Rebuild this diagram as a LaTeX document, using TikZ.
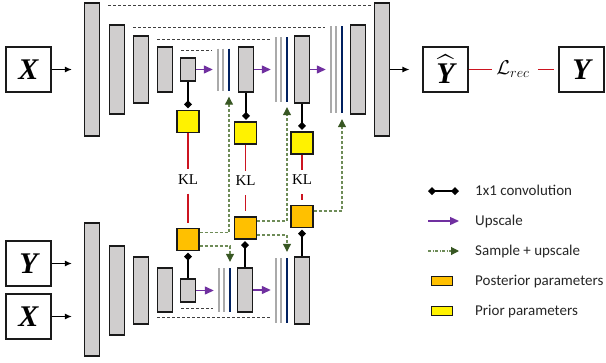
\RequirePackage{fix-cm}
\documentclass[tikz,border=0pt]{standalone}
\usepackage{amsmath}
\usepackage{amssymb}
\usepackage{fontspec}
\setmainfont{Liberation Serif}
\newfontfamily\legfont{Carlito}
\usepackage{tikz}
\usetikzlibrary{arrows.meta}
\usetikzlibrary{positioning}
\tikzset{>={Latex[length=7pt,width=6pt]}}

\definecolor{barfill}{RGB}{208,206,206}
\definecolor{edge}{RGB}{26,26,26}
\definecolor{navyline}{RGB}{0,32,96}
\definecolor{greyline}{RGB}{170,170,170}
\definecolor{upviolet}{RGB}{112,48,160}
\definecolor{samplegreen}{RGB}{110,140,88}
\definecolor{tipgreen}{RGB}{56,87,35}
\definecolor{postorange}{RGB}{255,192,0}
\definecolor{klred}{RGB}{204,20,32}
\definecolor{skipgrey}{RGB}{64,64,64}
\definecolor{legtext}{RGB}{38,38,38}

\tikzset{
  bar/.style={draw=edge, fill=barfill, line width=1.3pt, inner sep=0pt, minimum width=15pt},
  io/.style={draw=edge, fill=white, line width=1.1pt, inner sep=0pt, minimum size=45pt,
    font=\fontsize{30}{30}\selectfont\bfseries\itshape},
  stack/.style={inner sep=0pt, minimum width=16pt, path picture={
    \draw[greyline, line width=2.5pt] ([xshift=-5pt]path picture bounding box.north) -- ([xshift=-5pt]path picture bounding box.south);
    \draw[greyline, line width=2.5pt] (path picture bounding box.north) -- (path picture bounding box.south);
    \draw[navyline, line width=2.5pt] ([xshift=6pt]path picture bounding box.north) -- ([xshift=6pt]path picture bounding box.south);}},
  post/.style={draw=edge, fill=postorange, line width=1.4pt, inner sep=0pt, minimum size=22pt},
  prior/.style={post, fill=yellow},
  kl/.style={inner sep=5pt, font=\fontsize{15}{15}\selectfont},
  kline/.style={draw=klred, line width=1.4pt, shorten <=4pt, shorten >=5pt},
  conv/.style={draw=black, line width=2.8pt, -{Diamond[length=8pt,width=8pt]}, shorten >=1.5pt},
  upscale/.style={draw=upviolet, line width=1.3pt, -{Triangle[length=9pt,width=8pt]}, shorten >=2pt},
  sample/.style={draw=samplegreen, line width=1.1pt, dash pattern=on 3pt off 2pt,
    -{Triangle[length=8pt,width=8pt,color=tipgreen]}},
  skip/.style={draw=skipgrey, line width=1pt, dash pattern=on 3pt off 2pt, shorten <=8pt, shorten >=3pt},
  legend/.style={anchor=west, inner sep=0pt, text height=10pt, text depth=2pt, text=legtext,
    font=\legfont\fontsize{15}{15}\selectfont}
}

\begin{document}
\begin{tikzpicture}[x=1pt, y=-1pt]
        \useasboundingbox (0,0) rectangle (606,362);

        \node [io] (xtop) at (28.5,69.5) {X};
        \node [bar, minimum height=133pt] (tb1) at (92,69.5) {};
        \node [bar, minimum height=89pt] (tb2) at (117,69.5) {};
        \node [bar, minimum height=67pt] (tb3) at (141,69.5) {};
        \node [bar, minimum height=45pt] (tb4) at (165,69.5) {};
        \node [bar, minimum height=23pt] (tb5) at (188,69.5) {};
        \node [stack, minimum height=42pt] (g1) at (223,69.5) {};
        \node [bar, minimum height=45pt] (tb6) at (246,69.5) {};
        \node [stack, minimum height=65pt] (g2) at (281,69.5) {};
        \node [bar, minimum height=67pt] (tb7) at (302,69.5) {};
        \node [stack, minimum height=87pt] (g3) at (336,69.5) {};
        \node [bar, minimum height=89pt] (tb8) at (358,69.5) {};
        \node [bar, minimum height=133pt] (tb9) at (382,69.5) {};
        \node [io] (yhat) at (445.5,69.5) {$\widehat{\mbox{\bfseries\itshape Y}}$};
        \node [inner sep=4pt, font=\fontsize{20}{20}\selectfont] (lrec) at (513,69.5) {$\mathcal{L}_{rec}$};
        \node [io] (ytrue) at (581.5,69.5) {Y};

        \draw [->, line width=1.1pt, shorten >=12pt] (xtop) -- (tb1);
        \draw [->, line width=1.1pt, shorten >=13pt] (tb9) -- (yhat);
        \draw [kline, shorten >=4pt] (yhat) -- (lrec) -- (ytrue);

        \draw [skip] ([yshift=-3pt]tb1.north east) -- ([yshift=-3pt]tb9.north west);
        \draw [skip] ([yshift=-3pt]tb2.north east) -- ([yshift=-3pt]tb2.north east -| g3.west);
        \draw [skip] ([yshift=-4pt]tb3.north east) -- ([yshift=-4pt]tb3.north east -| g2.west);
        \draw [skip] ([yshift=-4pt]tb4.north east) -- ([yshift=-4pt]tb4.north east -| g1.west);

        \draw [upscale] (tb5) -- (g1);
        \draw [upscale] (tb6) -- (g2);
        \draw [upscale] (tb7) -- (g3);

        \node [prior] (y1) at (188,121.5) {};
        \node [prior] (y2) at (245.5,133) {};
        \node [prior] (y3) at (302,143) {};
        \draw [conv] (tb5.south) -- (tb5.south |- y1.north);
        \draw [conv] (tb6.south) -- (tb6.south |- y2.north);
        \draw [conv] (tb7.south) -- (tb7.south |- y3.north);

        \node [kl] (kl1) at (188,179.5) {KL};
        \node [kl] (kl2) at (245.5,181) {KL};
        \node [kl] (kl3) at (302,180) {KL};

        \node [post] (o1) at (188,239.5) {};
        \node [post] (o2) at (245.5,228) {};
        \node [post] (o3) at (302,216.5) {};
        \draw [kline] (y1) -- (kl1) -- (o1);
        \draw [kline] (y2) -- (kl2) -- (o2);
        \draw [kline] (y3) -- (kl3) -- (o3);

        \node [io] (ybot) at (28.5,263.5) {Y};
        \node [io] (xbot) at (28.5,316.5) {X};
        \node [bar, minimum height=133pt] (lb1) at (92,289.5) {};
        \node [bar, minimum height=89pt] (lb2) at (117,290.5) {};
        \node [bar, minimum height=67pt] (lb3) at (141,290.5) {};
        \node [bar, minimum height=44pt] (lb4) at (165,290) {};
        \node [bar, minimum height=23pt] (lsm) at (188,290.5) {};
        \node [stack, minimum height=44pt] (lg1) at (224,290) {};
        \node [bar, minimum height=44pt] (lb6) at (245,290) {};
        \node [stack, minimum height=65pt] (lg2) at (281,290.5) {};
        \node [bar, minimum height=67pt] (lb7) at (302,290.5) {};

        \draw [->, line width=1.1pt, shorten >=12pt] (ybot) -- (ybot -| lb1.west);
        \draw [->, line width=1.1pt, shorten >=12pt] (xbot) -- (xbot -| lb1.west);

        \draw [skip] ([yshift=4pt]lb4.south east) -- ([yshift=4pt]lb4.south east -| lg1.west);
        \draw [skip] ([yshift=7pt]lb3.south east) -- ([yshift=7pt]lb3.south east -| lg2.west);

        \draw [upscale] (lsm) -- (lsm -| lg1.west);
        \draw [upscale] (lb6) -- (lb6 -| lg2.west);

        \draw [conv] (lsm.north) -- (lsm.north |- o1.south);
        \draw [conv] (lb6.north) -- (lb6.north |- o2.south);
        \draw [conv] (lb7.north) -- (lb7.north |- o3.south);

        \draw [sample] ([yshift=7pt]o1.east) -| ([xshift=6pt,yshift=-6pt]g1.south);
        \draw [sample] ([yshift=-6.5pt]o1.east) -| ([xshift=6pt,yshift=6pt]lg1.north);
        \draw [sample] ([yshift=7pt]o2.east) -| ([xshift=6pt,yshift=-5pt]g2.south);
        \draw [sample] ([yshift=-7pt]o2.east) -| ([xshift=6pt,yshift=6pt]lg2.north);
        \draw [sample] ([yshift=5.5pt]o3.east) -| ([xshift=6pt,yshift=-6pt]g3.south);

        \node [legend] (lg-conv) at (475,191) {1x1 convolution};
        \node [legend] (lg-up) at (475,221) {Upscale};
        \node [legend] (lg-sample) at (475,251) {Sample + upscale};
        \node [legend] (lg-post) at (475,281) {Posterior parameters};
        \node [legend] (lg-prior) at (475,311) {Prior parameters};

        \draw [conv, {Diamond[length=8pt,width=8pt]}-{Diamond[length=8pt,width=8pt]}, shorten >=0pt] ([xshift=-47pt]lg-conv.west) -- ([xshift=-16pt]lg-conv.west);
        \draw [upscale, shorten >=0pt] ([xshift=-47pt]lg-up.west) -- ([xshift=-16pt]lg-up.west);
        \draw [sample, dash pattern=on 3pt off 1.5pt on 1pt off 1.5pt] ([xshift=-47pt]lg-sample.west) -- ([xshift=-16pt]lg-sample.west);
        \node [post, minimum width=21pt, minimum height=9pt, left=22pt of lg-post] (lg-postbox) {};
        \node [prior, minimum width=21pt, minimum height=9pt, left=22pt of lg-prior] (lg-priorbox) {};
    \end{tikzpicture}
\end{document}
